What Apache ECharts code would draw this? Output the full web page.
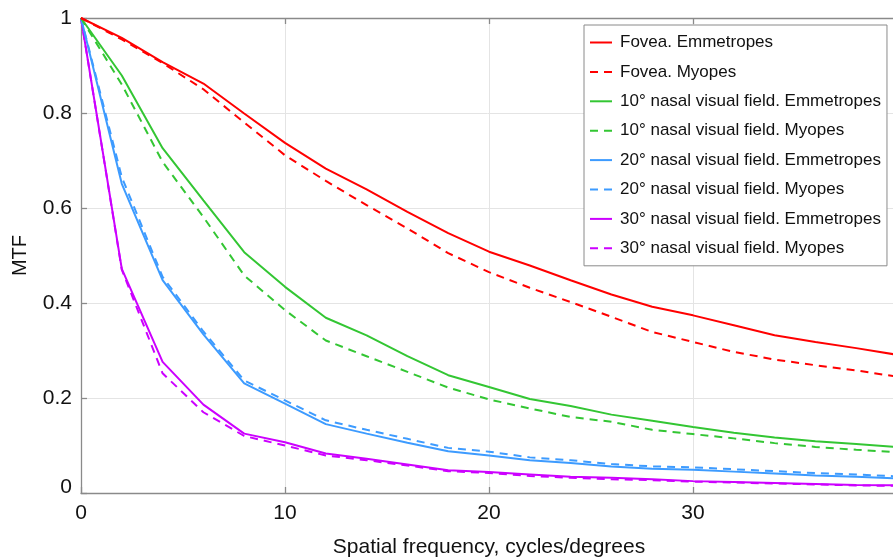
<!DOCTYPE html>
<html>
<head>
<meta charset="utf-8">
<script src="https://cdn.jsdelivr.net/npm/echarts@6/dist/echarts.min.js"></script>
<style>html,body{margin:0;padding:0;background:#fff;overflow:hidden;}#c{width:893px;height:558px;}</style>
</head>
<body>
<div id="c"></div>
<script>
var freq = [0, 2, 4, 6, 8, 10, 12, 14, 16, 18, 20, 22, 24, 26, 28, 30, 32, 34, 36, 38, 40];
var foveaEmm   = [1, 0.958, 0.907, 0.862, 0.799, 0.737, 0.683, 0.639, 0.592, 0.547, 0.508, 0.479, 0.448, 0.418, 0.392, 0.374, 0.353, 0.332, 0.318, 0.305, 0.291];
var foveaMyo   = [1, 0.955, 0.905, 0.850, 0.780, 0.711, 0.657, 0.606, 0.557, 0.505, 0.465, 0.432, 0.402, 0.371, 0.339, 0.318, 0.297, 0.281, 0.269, 0.258, 0.245];
var nasal10Emm = [1, 0.879, 0.726, 0.616, 0.507, 0.434, 0.369, 0.332, 0.288, 0.248, 0.223, 0.198, 0.183, 0.165, 0.152, 0.139, 0.127, 0.117, 0.109, 0.103, 0.097];
var nasal10Myo = [1, 0.860, 0.697, 0.581, 0.458, 0.385, 0.321, 0.288, 0.255, 0.222, 0.197, 0.178, 0.160, 0.150, 0.133, 0.124, 0.115, 0.105, 0.097, 0.091, 0.086];
var nasal20Emm = [1, 0.651, 0.448, 0.334, 0.231, 0.188, 0.145, 0.125, 0.106, 0.088, 0.079, 0.069, 0.063, 0.056, 0.051, 0.049, 0.045, 0.041, 0.037, 0.034, 0.031];
var nasal20Myo = [1, 0.665, 0.455, 0.340, 0.237, 0.195, 0.153, 0.133, 0.114, 0.095, 0.087, 0.075, 0.069, 0.061, 0.056, 0.054, 0.050, 0.046, 0.042, 0.039, 0.035];
var nasal30Emm = [1, 0.472, 0.276, 0.186, 0.125, 0.107, 0.083, 0.072, 0.060, 0.048, 0.044, 0.039, 0.034, 0.032, 0.029, 0.025, 0.023, 0.021, 0.019, 0.017, 0.016];
var nasal30Myo = [1, 0.470, 0.252, 0.170, 0.120, 0.100, 0.079, 0.069, 0.058, 0.046, 0.042, 0.036, 0.032, 0.029, 0.027, 0.024, 0.022, 0.020, 0.018, 0.016, 0.015];
var seriesNames = [
  'Fovea. Emmetropes', 'Fovea. Myopes',
  '10° nasal visual field. Emmetropes', '10° nasal visual field. Myopes',
  '20° nasal visual field. Emmetropes', '20° nasal visual field. Myopes',
  '30° nasal visual field. Emmetropes', '30° nasal visual field. Myopes'
];
var xTicks = [0, 10, 20, 30, 40];
var yTicks = [0, 0.2, 0.4, 0.6, 0.8, 1];
var xName = 'Spatial frequency, cycles/degrees';
var yName = 'MTF';

var values = [foveaEmm, foveaMyo, nasal10Emm, nasal10Myo, nasal20Emm, nasal20Myo, nasal30Emm, nasal30Myo];
var colors = ['#ff0000', '#ff0000', '#33c633', '#33c633', '#3d9bff', '#3d9bff', '#cc00ff', '#cc00ff'];
var FONT = 'Liberation Sans, Arial, Helvetica, sans-serif';

var series = values.map(function (vals, i) {
  return {
    name: seriesNames[i],
    type: 'line',
    symbol: 'none',
    smooth: false,
    data: freq.map(function (f, j) { return [f, vals[j]]; }),
    lineStyle: { color: colors[i], width: 2, type: (i % 2 === 1) ? [8, 6] : 'solid' },
    itemStyle: { color: colors[i] },
    z: 10 - i
  };
});

var chart = echarts.init(document.getElementById('c'), null, { renderer: 'canvas' });
var axisLineStyle = { color: '#8a8a8a', width: 1.3 };
chart.setOption({
  animation: false,
  backgroundColor: '#ffffff',
  grid: { left: 81, top: 18, width: 816, height: 475, containLabel: false, outerBoundsMode: 'none' },
  legend: {
    orient: 'vertical',
    left: 584,
    top: 25,
    padding: [9, 6, 9, 5],
    itemGap: 12.4,
    itemWidth: 22,
    itemHeight: 14,
    backgroundColor: '#ffffff',
    borderColor: '#8a8a8a',
    borderWidth: 1,
    borderRadius: 0,
    itemStyle: { color: 'rgba(0,0,0,0)', opacity: 0, borderWidth: 0 },
    textStyle: { fontFamily: FONT, fontSize: 17, color: '#111', padding: [0, 0, 0, 3] },
    data: seriesNames
  },
  xAxis: [{
    type: 'value', min: xTicks[0], max: xTicks[xTicks.length - 1], interval: 10,
    name: xName, nameLocation: 'middle', nameGap: 44,
    nameTextStyle: { fontFamily: FONT, fontSize: 21, color: '#111' },
    axisLine: { show: true, lineStyle: axisLineStyle },
    axisTick: { show: true, inside: true, length: 6, lineStyle: axisLineStyle },
    axisLabel: { fontFamily: FONT, fontSize: 21, color: '#111', margin: 10, showMaxLabel: false },
    splitLine: { show: true, lineStyle: { color: '#e4e4e4', width: 1 } }
  }, {
    type: 'value', position: 'top', min: xTicks[0], max: xTicks[xTicks.length - 1], interval: 10,
    axisLine: { show: true, lineStyle: axisLineStyle },
    axisTick: { show: true, inside: true, length: 6, lineStyle: axisLineStyle },
    axisLabel: { show: false },
    splitLine: { show: false }
  }],
  yAxis: [{
    type: 'value', min: yTicks[0], max: yTicks[yTicks.length - 1], interval: 0.2,
    name: yName, nameLocation: 'middle', nameGap: 51, nameRotate: 90,
    nameTextStyle: { fontFamily: FONT, fontSize: 20, color: '#111' },
    axisLine: { show: true, lineStyle: axisLineStyle },
    axisTick: { show: true, inside: true, length: 6, lineStyle: axisLineStyle },
    axisLabel: {
      fontFamily: FONT, fontSize: 21, color: '#111', margin: 9,
      formatter: function (v) {
        var s = String(Math.round(v * 10) / 10);
        return v === 0 ? '{z|' + s + '}' : s;
      },
      rich: { z: { fontFamily: FONT, fontSize: 21, color: '#111', padding: [0, 0, 12, 0] } }
    },
    splitLine: { show: true, lineStyle: { color: '#e4e4e4', width: 1 } }
  }],
  series: series
});
</script>
</body>
</html>
